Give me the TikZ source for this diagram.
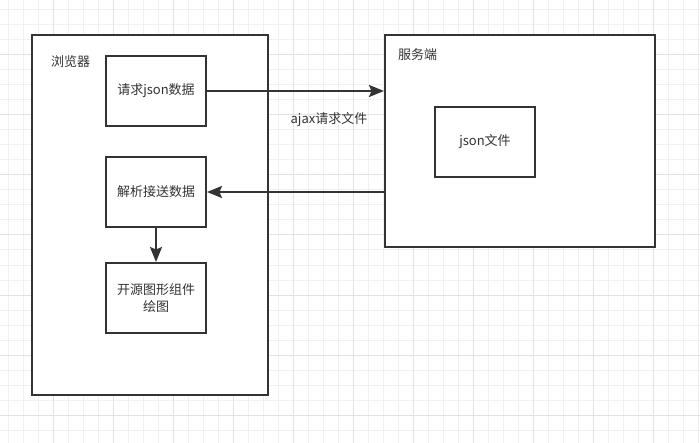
\documentclass[tikz,border=0pt]{standalone}
\usepackage{fontspec}
\setmainfont{Noto Sans CJK SC}
\usetikzlibrary{arrows.meta,positioning}
\definecolor{ink}{HTML}{333333}
\definecolor{gridminor}{HTML}{F0F0F0}
\definecolor{gridmajor}{HTML}{E2E2E2}

\begin{document}
\begin{tikzpicture}[x=1pt, y=-1pt, node distance=29pt, >={Stealth[length=15pt,width=12pt,inset=2.5pt]}]
  \tikzstyle{box} = [draw=ink, line width=2pt, fill=white, rectangle, minimum width=100pt, minimum height=70pt, inner sep=0pt, align=center, text=ink, font=\fontsize{13pt}{17pt}\selectfont]
  \tikzstyle{txt} = [inner sep=0pt, text=ink, font=\fontsize{13pt}{17pt}\selectfont]
  \useasboundingbox (0,0) rectangle (700,443);
  % background grid
  \foreach \gx in {8,23,...,698} \draw[gridminor, line width=1pt] (\gx,0) -- (\gx,443);
  \foreach \gy in {10,25,...,440} \draw[gridminor, line width=1pt] (0,\gy) -- (700,\gy);
  \foreach \gx in {53,113,...,653} \draw[gridmajor, line width=1pt] (\gx,0) -- (\gx,443);
  \foreach \gy in {55,115,...,415} \draw[gridmajor, line width=1pt] (0,\gy) -- (700,\gy);
  % containers
  \node[box, minimum width=236pt, minimum height=360pt] (browser) at (150,215) {};
  \node[box, minimum width=270pt, minimum height=212pt] (server) at (520,141) {};
  \node[txt, anchor=west] (browsertitle) at (51,62) {浏览器};
  \node[txt, anchor=west] (servertitle) at (398,55) {服务端};
  % browser side
  \node[box] (req) at (156,91) {请求json数据};
  \node[box, below=of req] (parse) {解析接送数据};
  \node[box, below=34pt of parse] (plot) {开源图形组件\\绘图};
  % server side
  \node[box] (jsonfile) at (485,142) {json文件};
  \node[txt] (ajax) at (329,120) {ajax请求文件};
  \draw[->, draw=ink, fill=ink, line width=2pt] (req.east) -- (req.east -| server.west);
  \draw[->, draw=ink, fill=ink, line width=2pt] (server.west |- parse.east) -- (parse.east);
  \draw[->, draw=ink, fill=ink, line width=2pt] (parse) -- (plot);
\end{tikzpicture}
\end{document}
